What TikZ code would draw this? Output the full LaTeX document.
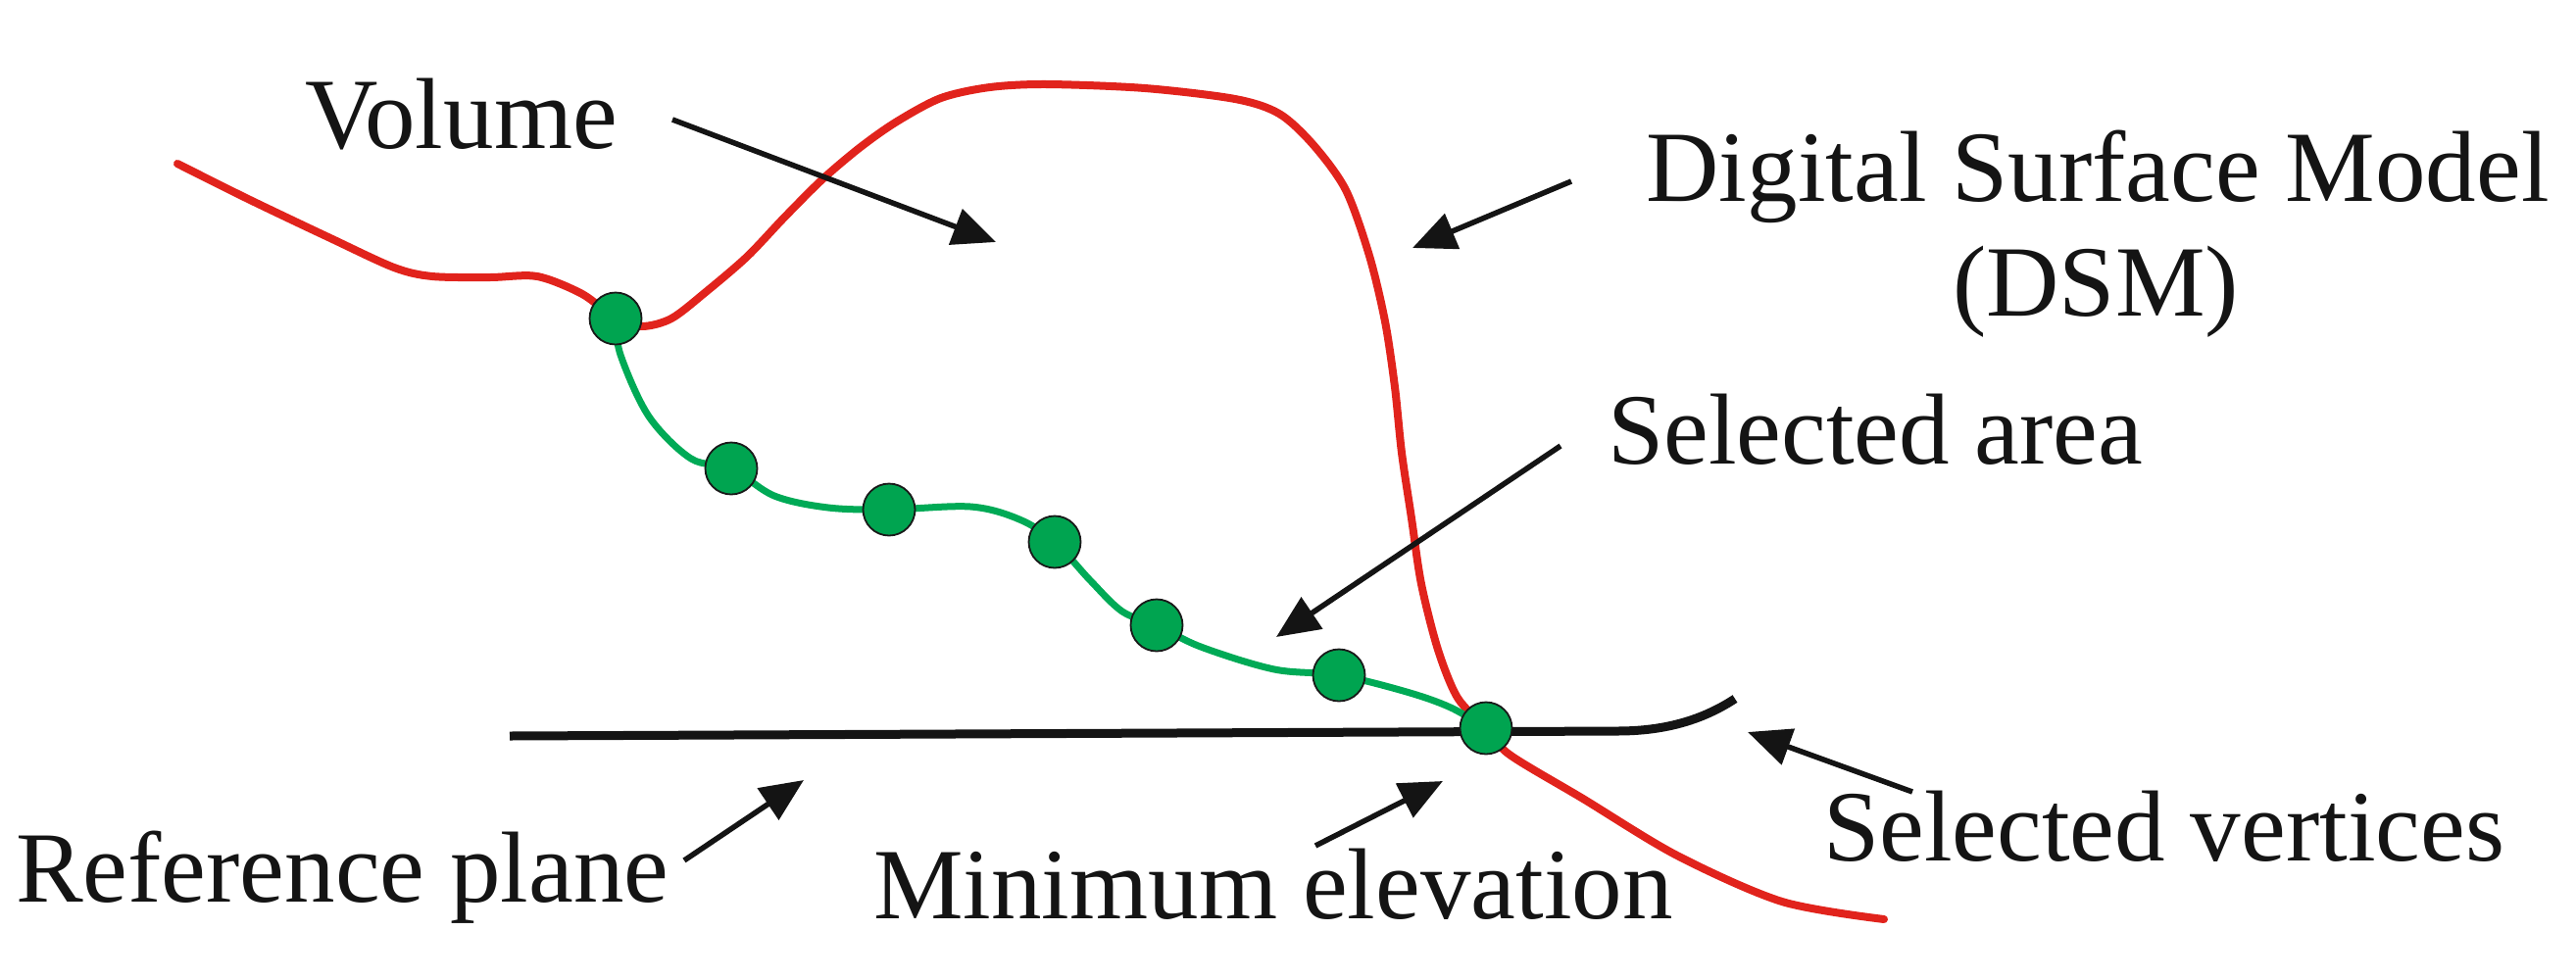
\documentclass[tikz,border=0pt]{standalone}
\usepackage{fontspec}
\setmainfont{Liberation Serif}
\usetikzlibrary{arrows.meta}
\definecolor{dsmred}{RGB}{225,35,28}
\definecolor{selgreen}{RGB}{0,164,80}
\definecolor{linegreen}{RGB}{0,170,86}
\tikzset{
  dsmline/.style={draw=dsmred,line width=8pt,line cap=round,line join=round},
  arealine/.style={draw=linegreen,line width=7pt,line cap=round},
  refline/.style={draw=black!92,line width=9pt},
  vertex/.style={circle,draw=black!90,line width=1.8pt,fill=selgreen,minimum size=53pt,inner sep=0pt},
  pointer/.style={draw=black!92,line width=5.5pt,-{Triangle[length=44pt,width=38pt]}},
  lbl/.style={inner sep=0pt,font=\fontsize{103pt}{117pt}\selectfont,text=black!92}
}
\begin{document}
\begin{tikzpicture}[x=1pt,y=-1pt]
\useasboundingbox (0,0) rectangle (2628,999);
% vertex positions
\coordinate (p1) at (628,325);
\coordinate (p2) at (746,478);
\coordinate (p3) at (907,520);
\coordinate (p4) at (1076,553);
\coordinate (p5) at (1180,638);
\coordinate (p6) at (1366,689);
\coordinate (p7) at (1516,743);
% DSM red curve
\draw[dsmline] plot[smooth,tension=0.5] coordinates {
 (181,167) (253,203) (337,243) (402,273) (441,282) (500,283) (548,282) (594,300)
 (p1) (655,333) (685,325) (720,298) (762,262) (800,222) (839,183) (878,150)
 (915,124) (960,100) (1010,89) (1068,86) (1168,90) (1260,101) (1305,116)
 (1340,148) (1373,194) (1397,261)
 (1413,328) (1423,395) (1430,462) (1440,529) (1450,596) (1467,663) (1487,712) (p7)
 (1540,770) (1615,815) (1711,873) (1818,920) (1922,938)};
% reference plane
\draw[refline] (520,751) -- (1650,746) .. controls (1700,746) and (1738,734) .. (1770,713);
% selected area green curve
\draw[arealine] plot[smooth,tension=0.55] coordinates {
 (p1) (633,362) (662,425) (705,468) (p2) (790,506) (845,518) (p3) (990,517)
 (1040,530) (p4) (1112,592) (1145,624) (p5) (1225,660) (1300,683) (p6)
 (1435,706) (1480,722) (p7)};
% vertices
\foreach \i in {1,...,7} { \node[vertex] (v\i) at (p\i) {}; }
% labels
\node[lbl,anchor=base west] (vol) at (311,151) {Volume};
\node[lbl,anchor=base] (dsm1) at (2140,205) {Digital Surface Model};
\node[lbl,anchor=base] (dsm2) at (2138,322) {(DSM)};
\node[lbl,anchor=base west] (sela) at (1640,473) {Selected area};
\node[lbl,anchor=base west] (refp) at (16,920) {Reference plane};
\node[lbl,anchor=base west] (mine) at (891,937) {Minimum elevation};
\node[lbl,anchor=base west] (selv) at (1860,878) {Selected vertices};
% arrow ends
\coordinate (t1) at (686,122);  \coordinate (h1) at (1016,247);
\coordinate (t2) at (1603,185); \coordinate (h2) at (1441,253);
\coordinate (t3) at (1592,455); \coordinate (h3) at (1302,650);
\coordinate (t4) at (698,878);  \coordinate (h4) at (820,796);
\coordinate (t5) at (1342,863); \coordinate (h5) at (1472,797);
\coordinate (t6) at (1951,808); \coordinate (h6) at (1783,747);
\draw[pointer] (t1) -- (h1);
\draw[pointer] (t2) -- (h2);
\draw[pointer] (t3) -- (h3);
\draw[pointer] (t4) -- (h4);
\draw[pointer] (t5) -- (h5);
\draw[pointer] (t6) -- (h6);
\end{tikzpicture}
\end{document}
